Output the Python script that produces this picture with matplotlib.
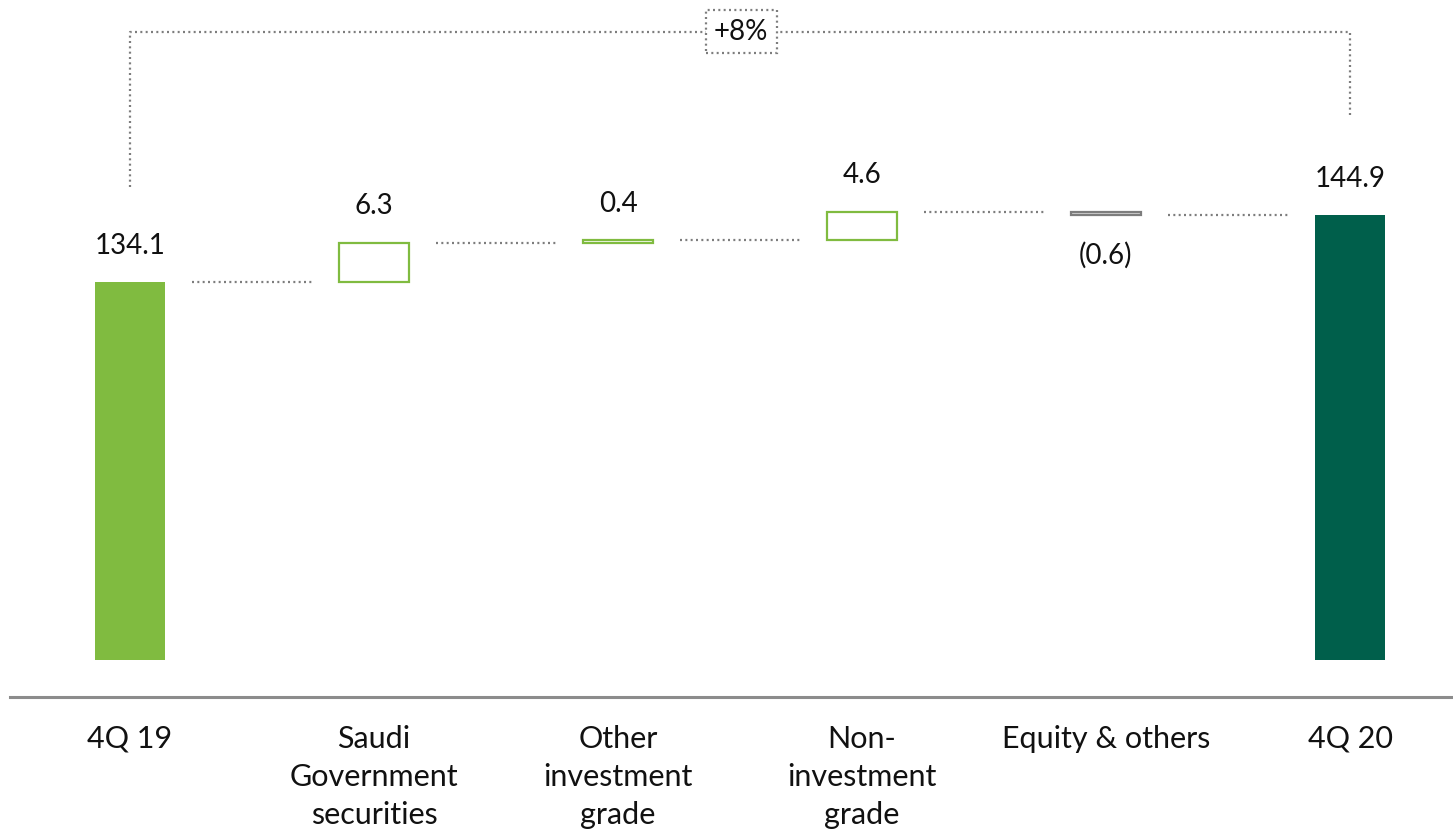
import matplotlib
matplotlib.use("Agg")
import matplotlib.pyplot as plt
from matplotlib import font_manager
from matplotlib.transforms import blended_transform_factory

# ---- data -------------------------------------------------------------
categories = ["4Q 19", "Saudi\nGovernment\nsecurities", "Other\ninvestment\ngrade",
              "Non-\ninvestment\ngrade", "Equity & others", "4Q 20"]
start_total = 134.1
changes = [6.3, 0.4, 4.6, -0.6]
end_total = 144.9
value_labels = ["134.1", "6.3", "0.4", "4.6", "(0.6)", "144.9"]
growth_label = "+8%"

# ---- style ------------------------------------------------------------
installed = {f.name for f in font_manager.fontManager.ttflist}
family = [f for f in ["Lato", "Roboto", "DejaVu Sans"] if f in installed]
plt.rcParams["font.family"] = family
plt.rcParams["font.weight"] = "normal"

LIGHT_GREEN = "#80bb40"
DARK_GREEN = "#005f4b"
GREY = "#7d7d7d"
TEXT = "#111111"
DOTS = (0, (0.9, 1.5))

W, H = 1453, 833
fig = plt.figure(figsize=(W / 100, H / 100), dpi=100)
ax = fig.add_axes([0, 173 / H, 1, 660 / H])
ax.set_xlim(-130 / 244, (W - 130) / 244)
ax.set_ylim(73.1, 179.5)
ax.axis("off")

bar_w = 0.287
n = len(categories)

# totals
ax.bar(0, start_total, width=bar_w, color=LIGHT_GREEN, zorder=3)
ax.bar(n - 1, end_total, width=bar_w, color=DARK_GREEN, zorder=3)

# floating change boxes
running = start_total
levels = [start_total]
for i, c in enumerate(changes, start=1):
    bottom = running if c >= 0 else running + c
    if c >= 0:
        ax.bar(i, abs(c), bottom=bottom, width=bar_w, facecolor="white",
               edgecolor=LIGHT_GREEN, linewidth=1.6, zorder=3)
    else:
        ax.bar(i, abs(c), bottom=bottom, width=bar_w, facecolor="#d9d9d9",
               edgecolor=GREY, linewidth=1.6, zorder=3)
    running += c
    levels.append(running)

# dotted connectors between consecutive columns
for i in range(n - 1):
    ax.plot([i + 0.5 - 0.245, i + 0.5 + 0.245], [levels[i], levels[i]],
            color=GREY, linewidth=1.6, linestyle=DOTS, zorder=2)

# value labels
tops = [start_total]
r = start_total
for c in changes:
    tops.append(max(r, r + c))
    r += c
tops.append(end_total)

for i, lab in enumerate(value_labels):
    if 1 <= i <= len(changes) and changes[i - 1] < 0:
        y = levels[i - 1] + changes[i - 1]
        ax.annotate(lab, (i, y), xytext=(0, -29), textcoords="offset points",
                    ha="center", va="center", fontsize=20, color=TEXT)
    else:
        ax.annotate(lab, (i, tops[i]), xytext=(0, 26), textcoords="offset points",
                    ha="center", va="center", fontsize=20, color=TEXT)

# growth bracket
bracket_top = 174.4
ax.plot([0, 0, n - 1, n - 1],
        [start_total + 15.3, bracket_top, bracket_top, end_total + 15.8],
        color=GREY, linewidth=1.6, linestyle=DOTS, zorder=2)
ax.text((n - 1) / 2 + 0.005, bracket_top, growth_label, ha="center", va="center",
        fontsize=20, color=TEXT, zorder=4,
        bbox=dict(boxstyle="square,pad=0.3", facecolor="white", edgecolor=GREY,
                  linewidth=1.6, linestyle=DOTS))

# baseline rule
fig.add_artist(plt.Line2D([10 / W, 1.0], [1 - 697 / H, 1 - 697 / H],
                          color="#8c8c8c", linewidth=2.2))

# category labels
trans = blended_transform_factory(ax.transData, fig.transFigure)
for i, cat in enumerate(categories):
    ax.text(i, 1 - 725 / H, cat, transform=trans, ha="center", va="top",
            fontsize=22, color=TEXT, linespacing=1.43, multialignment="center",
            clip_on=False)

fig.savefig("out.png", dpi=100)
